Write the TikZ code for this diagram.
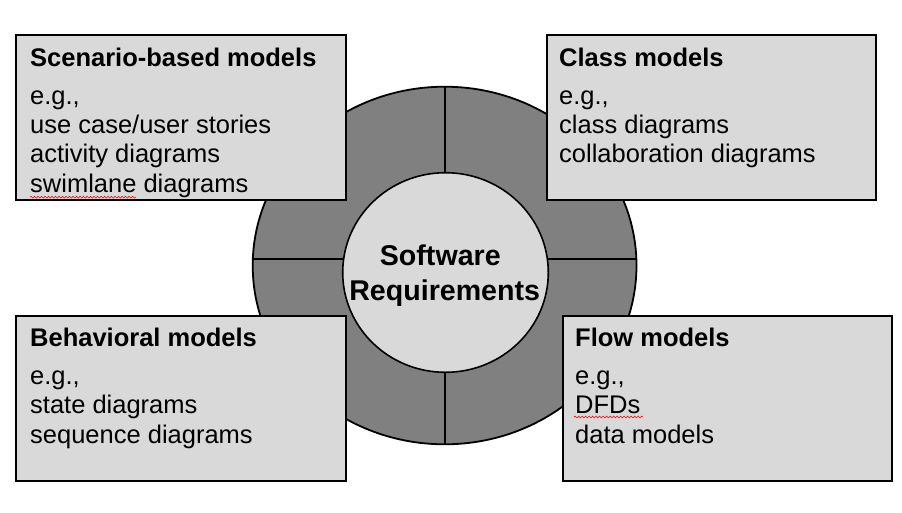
\documentclass[tikz,border=0pt]{standalone}
\usepackage{fontspec}
\setmainfont{Liberation Sans}
\usetikzlibrary{shapes.geometric,decorations.pathmorphing}
\definecolor{ringgray}{HTML}{808080}
\definecolor{boxgray}{HTML}{D9D9D9}
\begin{document}
\begin{tikzpicture}[x=1pt,y=-1pt,
  ringshape/.style={ellipse,draw=black,line width=1.8pt,fill=ringgray,inner sep=0pt},
  coreshape/.style={ellipse,draw=black,line width=1.6pt,fill=boxgray,inner sep=0pt},
  divider/.style={draw=black,line width=2.2pt},
  modelbox/.style={rectangle,draw=black,line width=2.6pt,fill=boxgray,inner sep=0pt,minimum height=165pt},
  titletext/.style={anchor=base west,inner sep=0pt,font=\fontsize{25.5}{30}\selectfont\bfseries},
  bodytext/.style={anchor=base west,inner sep=0pt,font=\fontsize{25.5}{30}\selectfont},
  centertext/.style={anchor=base,inner sep=0pt,font=\fontsize{28.6}{34}\selectfont\bfseries},
  spellmark/.style={draw=red,line width=0.6pt,decorate,decoration={snake,amplitude=0.9pt,segment length=3.5pt}}]
\useasboundingbox (0,0) rectangle (902,512);
% ring
\node[ringshape,minimum width=383.8pt,minimum height=357.6pt] (ring) at (444.6,265.5) {};
\draw[divider] ([xshift=0.4pt]ring.north) -- ([xshift=0.4pt]ring.south);
\draw[divider] ([yshift=6.5pt,xshift=0.5pt]ring.west) -- ([yshift=6.5pt,xshift=-0.5pt]ring.east);
% core
\node[coreshape,minimum width=205.6pt,minimum height=199.6pt] (core) at (445.5,272.5) {};
\node[centertext] (sw) at (440.3,265) {Software};
\node[centertext] (req) at (444.7,300) {Requirements};
% scenario box
\node[modelbox,minimum width=330pt] (scen) at (181,117.5) {};
\node[titletext] (scen1) at (30,66) {Scenario-based models};
\node[bodytext] (scen2) at (30,104) {e.g.,};
\node[bodytext] (scen3) at (30,133.3) {use case/user stories};
\node[bodytext] (scen4) at (30,162.7) {activity diagrams};
\node[bodytext] (scen5) at (30,192) {swimlane diagrams};
\draw[spellmark] (30,197.2) -- (136,197.2);
% class box
\node[modelbox,minimum width=329pt] (cls) at (711.5,117.5) {};
\node[titletext] (cls1) at (559,66) {Class models};
\node[bodytext] (cls2) at (559,104) {e.g.,};
\node[bodytext] (cls3) at (559,133.3) {class diagrams};
\node[bodytext] (cls4) at (559,162.7) {collaboration diagrams};
% behavioral box
\node[modelbox,minimum width=330pt] (beh) at (181,398.5) {};
\node[titletext] (beh1) at (30,346.5) {Behavioral models};
\node[bodytext] (beh2) at (30,384) {e.g.,};
\node[bodytext] (beh3) at (30,413.5) {state diagrams};
\node[bodytext] (beh4) at (30,443.5) {sequence diagrams};
% flow box
\node[modelbox,minimum width=329pt] (flow) at (727.5,398.5) {};
\node[titletext] (flow1) at (575,346.5) {Flow models};
\node[bodytext] (flow2) at (575,384) {e.g.,};
\node[bodytext] (flow3) at (575,413.5) {DFDs};
\node[bodytext] (flow4) at (575,443.5) {data models};
\draw[spellmark] (574,417) -- (643,417);
\end{tikzpicture}
\end{document}
